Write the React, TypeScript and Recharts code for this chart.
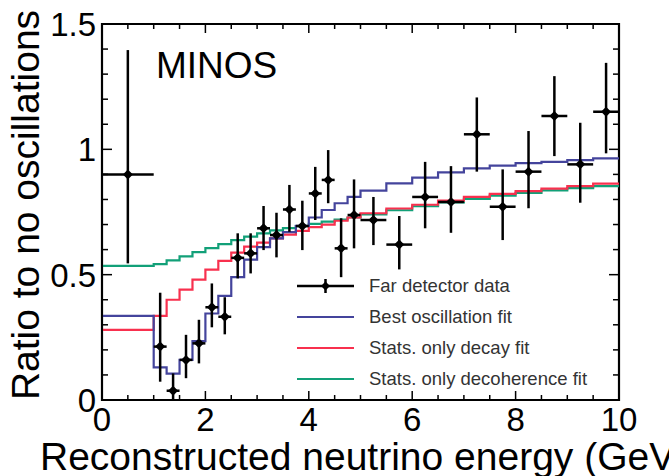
import React from 'react';
import { ComposedChart, Line, Scatter, XAxis, YAxis, ErrorBar, Legend, ReferenceArea } from 'recharts';

// ---- data: far detector points ----
const pointEnergy = [0.5, 1.125, 1.375, 1.625, 1.875, 2.125, 2.375, 2.625, 2.875, 3.125, 3.375, 3.625, 3.875, 4.125, 4.375, 4.625, 4.875, 5.25, 5.75, 6.25, 6.75, 7.25, 7.75, 8.25, 8.75, 9.25, 9.75];
const pointHalfWidth = [0.5, 0.125, 0.125, 0.125, 0.125, 0.125, 0.125, 0.125, 0.125, 0.125, 0.125, 0.125, 0.125, 0.125, 0.125, 0.125, 0.125, 0.25, 0.25, 0.25, 0.25, 0.25, 0.25, 0.25, 0.25, 0.25, 0.25];
const pointRatio = [0.9, 0.213, 0.037, 0.16, 0.226, 0.37, 0.332, 0.567, 0.585, 0.685, 0.658, 0.76, 0.694, 0.824, 0.878, 0.605, 0.738, 0.718, 0.62, 0.81, 0.79, 1.06, 0.771, 0.911, 1.133, 0.94, 1.15];
const pointUpper = [1.396, 0.428, 0.106, 0.26, 0.32, 0.465, 0.41, 0.665, 0.665, 0.774, 0.747, 0.858, 0.795, 0.93, 0.997, 0.725, 0.88, 0.81, 0.734, 0.95, 0.933, 1.207, 0.92, 1.073, 1.292, 1.106, 1.345];
const pointLower = [0.545, 0.073, 0.0, 0.087, 0.146, 0.29, 0.262, 0.485, 0.505, 0.598, 0.569, 0.671, 0.598, 0.718, 0.785, 0.49, 0.605, 0.618, 0.521, 0.685, 0.667, 0.911, 0.638, 0.765, 0.973, 0.787, 0.984];

// ---- data: fit histograms (bin low edges, last edge = 10) ----
const binEdges = [0, 1, 1.25, 1.5, 1.75, 2, 2.25, 2.5, 2.75, 3, 3.25, 3.5, 3.75, 4, 4.25, 4.5, 4.75, 5, 5.5, 6, 6.5, 7, 7.5, 8, 8.5, 9, 9.5];
const histEnd = 10;
const bestOscillation = [0.336, 0.13, 0.105, 0.16, 0.235, 0.345, 0.415, 0.49, 0.56, 0.61, 0.645, 0.67, 0.695, 0.728, 0.758, 0.785, 0.81, 0.835, 0.864, 0.887, 0.908, 0.924, 0.935, 0.945, 0.95, 0.957, 0.964];
const decayFit = [0.28, 0.336, 0.4, 0.44, 0.48, 0.52, 0.555, 0.588, 0.612, 0.628, 0.645, 0.66, 0.675, 0.69, 0.7, 0.715, 0.728, 0.745, 0.764, 0.779, 0.795, 0.81, 0.822, 0.833, 0.843, 0.853, 0.863];
const decoherenceFit = [0.535, 0.542, 0.557, 0.573, 0.59, 0.606, 0.622, 0.638, 0.652, 0.665, 0.677, 0.686, 0.694, 0.703, 0.712, 0.72, 0.728, 0.74, 0.757, 0.773, 0.788, 0.802, 0.815, 0.826, 0.836, 0.845, 0.853];

// ---- ticks / labels ----
const xDomain = [0, 10];
const yDomain = [0, 1.5];
const xTicks = [0, 0.5, 1, 1.5, 2, 2.5, 3, 3.5, 4, 4.5, 5, 5.5, 6, 6.5, 7, 7.5, 8, 8.5, 9, 9.5, 10];
const xMajorTicks = [0, 2, 4, 6, 8, 10];
const yTicks = [0, 0.1, 0.2, 0.3, 0.4, 0.5, 0.6, 0.7, 0.8, 0.9, 1, 1.1, 1.2, 1.3, 1.4, 1.5];
const yMajorTicks = [0, 0.5, 1, 1.5];
const yMajorLabels = ['0', '0.5', '1', '1.5'];

const legendNames = ['Far detector data', 'Best oscillation fit', 'Stats. only decay fit', 'Stats. only decoherence fit'];
const xTitle = 'Reconstructed neutrino energy (GeV)';
const yTitle = 'Ratio to no oscillations';
const experimentName = 'MINOS';

// ---- layout / styles ----
const FONT = '"Liberation Sans", Arial, Helvetica, sans-serif';
const BLUE = '#44449c';
const RED = '#f8304e';
const GREEN = '#12a078';
const colors = ['#000000', BLUE, RED, GREEN];

const W = 669;
const H = 476;
const MARGIN = { top: 24, right: 50, bottom: 0, left: 0 };
const Y_AXIS_W = 102;
const X_AXIS_H = 76;
const PLOT_W = W - MARGIN.left - MARGIN.right - Y_AXIS_W;
const PLOT_H = H - MARGIN.top - MARGIN.bottom - X_AXIS_H;

const histTable = (vals: number[]) => {
  const rows = binEdges.map((e, i) => ({ x: e, y: vals[i] }));
  rows.push({ x: histEnd, y: vals[vals.length - 1] });
  return rows;
};

const pointTable = pointEnergy.map((e, i) => ({
  x: e,
  y: pointRatio[i],
  ex: pointHalfWidth[i],
  ey: [pointRatio[i] - pointLower[i], pointUpper[i] - pointRatio[i]],
}));

const isMajor = (v: number, list: number[]) => list.some((m) => Math.abs(m - v) < 1e-6);

// bottom ticks (inward) + mirrored ticks on the top frame edge
const BottomTick = (props: any) => {
  const { x, y, payload } = props;
  const v = payload.value;
  const major = isMajor(v, xMajorTicks);
  const len = major ? 9 : 5;
  const top = y - PLOT_H;
  return (
    <g>
      <line x1={x} x2={x} y1={y} y2={y - len} stroke="#000" strokeWidth={1.5} />
      <line x1={x} x2={x} y1={top} y2={top + len} stroke="#000" strokeWidth={1.5} />
      {major && (
        <text x={x} y={y + 31} textAnchor="middle" fontSize={33} fontFamily={FONT} fill="#000">
          {String(v)}
        </text>
      )}
    </g>
  );
};

// left ticks (inward) + mirrored ticks on the right frame edge
const LeftTick = (props: any) => {
  const { x, y, payload } = props;
  const v = payload.value;
  const idx = yMajorTicks.findIndex((m) => Math.abs(m - v) < 1e-6);
  const major = idx >= 0;
  const len = major ? 10 : 6;
  const right = x + PLOT_W;
  return (
    <g>
      <line x1={x} x2={x + len} y1={y} y2={y} stroke="#000" strokeWidth={1.5} />
      <line x1={right} x2={right - len} y1={y} y2={y} stroke="#000" strokeWidth={1.5} />
      {major && (
        <text x={x - 6} y={y + 12} textAnchor="end" fontSize={33} fontFamily={FONT} fill="#000">
          {yMajorLabels[idx]}
        </text>
      )}
    </g>
  );
};

const Diamond = (props: any) => {
  const { cx, cy } = props;
  if (cx == null || cy == null) return null;
  return <polygon points={`${cx - 5},${cy} ${cx},${cy - 5} ${cx + 5},${cy} ${cx},${cy + 5}`} fill="#000" />;
};

const LegendContent = () => (
  <div style={{ fontFamily: FONT, fontSize: 18.5, color: '#333', lineHeight: '31px' }}>
    {legendNames.map((name, i) => (
      <div key={name} style={{ display: 'flex', alignItems: 'center', height: 31 }}>
        <svg width={60} height={20} style={{ marginRight: 13, flex: 'none' }}>
          <line x1={1} x2={58} y1={10} y2={10} stroke={colors[i]} strokeWidth={i === 0 ? 2.5 : 2.2} />
          {i === 0 && (
            <>
              <line x1={29.5} x2={29.5} y1={3} y2={17} stroke="#000" strokeWidth={2.5} />
              <polygon points="25,10 29.5,5.5 34,10 29.5,14.5" fill="#000" />
            </>
          )}
        </svg>
        <span style={{ whiteSpace: 'nowrap' }}>{name}</span>
      </div>
    ))}
  </div>
);

export default function App() {
  return (
    <div style={{ position: 'absolute', left: 0, top: 0, width: W, height: H, overflow: 'hidden', background: '#fff' }}>
      <ComposedChart width={W} height={H} margin={MARGIN}>
        <XAxis
          dataKey="x"
          type="number"
          domain={xDomain}
          allowDataOverflow
          ticks={xTicks}
          interval={0}
          tickSize={0}
          tickMargin={0}
          height={X_AXIS_H}
          axisLine={{ stroke: '#000', strokeWidth: 2 }}
          tickLine={false}
          tick={<BottomTick />}
          label={{
            content: (p: any) => {
              const vb = p.viewBox || { x: 102, y: 400 };
              return (
                <text x={vb.x - 62} y={vb.y + 70} fontSize={39} fontFamily={FONT} fill="#000">
                  {xTitle}
                </text>
              );
            },
          }}
        />
        <YAxis
          type="number"
          domain={yDomain}
          allowDataOverflow
          ticks={yTicks}
          interval={0}
          tickSize={0}
          tickMargin={0}
          width={Y_AXIS_W}
          axisLine={{ stroke: '#000', strokeWidth: 2 }}
          tickLine={false}
          tick={<LeftTick />}
          label={{
            content: (p: any) => {
              const vb = p.viewBox || { x: 0, y: 24, height: 376 };
              const cx = vb.x + 39;
              const cy = vb.y + vb.height / 2 - 7;
              return (
                <text x={cx} y={cy} transform={`rotate(-90, ${cx}, ${cy})`} textAnchor="middle" fontSize={39} fontFamily={FONT} fill="#000">
                  {yTitle}
                </text>
              );
            },
          }}
        />
        <ReferenceArea
          x1={xDomain[0]}
          x2={xDomain[1]}
          y1={yDomain[0]}
          y2={yDomain[1]}
          fill="none"
          fillOpacity={0}
          stroke="#000000"
          strokeWidth={2.2}
          ifOverflow="visible"
          label={{
            content: (p: any) => {
              const vb = p.viewBox || { x: 102, y: 24 };
              return (
                <text x={vb.x + 54} y={vb.y + 54} fontSize={37} fontFamily={FONT} fill="#000">
                  {experimentName}
                </text>
              );
            },
          }}
        />
        <Legend
          layout="horizontal"
          verticalAlign="middle"
          align="center"
          content={<LegendContent />}
          wrapperStyle={{ position: 'absolute', left: 296, top: 270, width: 330, height: 124 }}
        />
        <Line data={histTable(decoherenceFit)} dataKey="y" type="stepAfter" stroke={GREEN} strokeWidth={2.2} dot={false} activeDot={false} isAnimationActive={false} name={legendNames[3]} />
        <Line data={histTable(decayFit)} dataKey="y" type="stepAfter" stroke={RED} strokeWidth={2.2} dot={false} activeDot={false} isAnimationActive={false} name={legendNames[2]} />
        <Line data={histTable(bestOscillation)} dataKey="y" type="stepAfter" stroke={BLUE} strokeWidth={2.2} dot={false} activeDot={false} isAnimationActive={false} name={legendNames[1]} />
        <Scatter data={pointTable} dataKey="y" fill="#000" shape={<Diamond />} isAnimationActive={false} name={legendNames[0]}>
          <ErrorBar dataKey="ey" direction="y" width={0} stroke="#000" strokeWidth={2.5} />
          <ErrorBar dataKey="ex" direction="x" width={0} stroke="#000" strokeWidth={2.5} />
        </Scatter>
      </ComposedChart>
    </div>
  );
}
